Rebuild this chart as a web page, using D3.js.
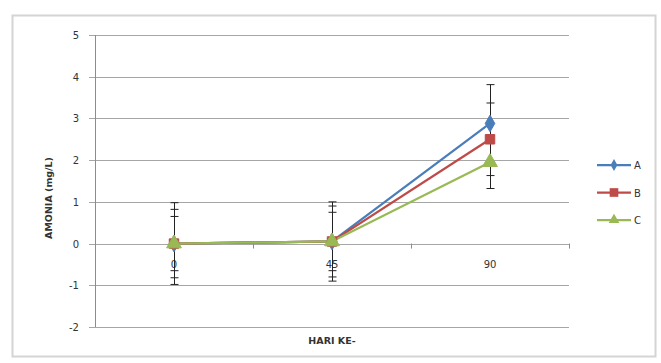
<!DOCTYPE html>
<html><head><meta charset="utf-8">
<script src="https://cdn.jsdelivr.net/npm/d3@7"></script>
<style>body{margin:0;background:#fff;}svg{display:block;}</style>
</head><body>
<svg id="c" width="661" height="363"></svg>
<script>
const categories = ["0", "45", "90"];
const seriesNames = ["A", "B", "C"];
const valuesA = [0, 0.05, 2.88];
const valuesB = [0, 0.05, 2.5];
const valuesC = [0, 0.05, 1.95];
const errorsA = [0.98, 0.95, 0.93];
const errorsB = [0.82, 0.85, 0.87];
const errorsC = [0.65, 0.7, 0.63];
const yTicks = [-2, -1, 0, 1, 2, 3, 4, 5];
const colors = ["#4A7EBB", "#BE4B48", "#98B954"];

const series = [
  {name: seriesNames[0], values: valuesA, errors: errorsA, color: colors[0], shape: d3.symbolDiamond},
  {name: seriesNames[1], values: valuesB, errors: errorsB, color: colors[1], shape: d3.symbolSquare},
  {name: seriesNames[2], values: valuesC, errors: errorsC, color: colors[2], shape: d3.symbolTriangle}
];

const svg = d3.select("#c");
const font = "'DejaVu Sans', sans-serif";
const L = 95, R = 569, T = 35, B = 327;

// outer border
svg.append("rect").attr("x", 12.5).attr("y", 15.5).attr("width", 643).attr("height", 341)
  .attr("fill", "#fff").attr("stroke", "#d4d4d4").attr("stroke-width", 2);

const x = d3.scaleBand().domain(categories).range([L, R]);
const y = d3.scaleLinear().domain([-2, 5]).range([B, T]);

// gridlines
svg.append("g").selectAll("line").data(yTicks).join("line")
  .attr("x1", L - 6).attr("x2", R)
  .attr("y1", d => Math.round(y(d)) + 0.5).attr("y2", d => Math.round(y(d)) + 0.5)
  .attr("stroke", "#a6a6a6").attr("stroke-width", 1);

// y axis line
svg.append("line").attr("x1", L + 0.5).attr("x2", L + 0.5).attr("y1", y(5)).attr("y2", y(-2))
  .attr("stroke", "#8c8c8c");

// y tick labels
svg.append("g").selectAll("text").data(yTicks).join("text")
  .attr("x", L - 16).attr("y", d => y(d) + 4).attr("text-anchor", "end")
  .attr("font-family", font).attr("font-size", 10).attr("fill", "#333")
  .text(d => d);

// category tick marks on 0 line
const bounds = [x("45"), x("90"), R];
svg.append("g").selectAll("line").data(bounds).join("line")
  .attr("x1", d => d + 0.5).attr("x2", d => d + 0.5)
  .attr("y1", y(0)).attr("y2", y(0) + 5).attr("stroke", "#8c8c8c");

// category labels
svg.append("g").selectAll("text").data(categories).join("text")
  .attr("x", d => x(d) + x.bandwidth() / 2).attr("y", y(0) + 24).attr("text-anchor", "middle")
  .attr("font-family", font).attr("font-size", 10).attr("fill", "#333")
  .text(d => d);

const cx = d => x(d) + x.bandwidth() / 2;

// lines
const line = d3.line().x((d, i) => cx(categories[i])).y(d => y(d));
series.forEach(s => {
  svg.append("path").datum(s.values).attr("d", line).attr("fill", "none")
    .attr("stroke", s.color).attr("stroke-width", 2.25);
});

// error bars
series.forEach(s => {
  const g = svg.append("g").attr("stroke", "#222").attr("stroke-width", 1);
  s.values.forEach((v, i) => {
    const px = Math.round(cx(categories[i])) + 0.5;
    const e = s.errors[i];
    g.append("line").attr("x1", px).attr("x2", px).attr("y1", y(v + e)).attr("y2", y(v - e));
    [v + e, v - e].forEach(t => {
      g.append("line").attr("x1", px - 4).attr("x2", px + 4).attr("y1", y(t)).attr("y2", y(t));
    });
  });
});

// markers
series.forEach((s, k) => {
  const sz = [80, 90, 95][k];
  svg.append("g").selectAll("path").data(s.values).join("path")
    .attr("transform", (d, i) => `translate(${cx(categories[i])},${y(d)})`)
    .attr("d", d3.symbol().type(s.shape).size(sz))
    .attr("fill", s.color).attr("stroke", s.color).attr("stroke-width", 1);
});

// legend
const lg = svg.append("g");
series.forEach((s, i) => {
  const ly = 165 + i * 27.5;
  lg.append("line").attr("x1", 597).attr("x2", 631).attr("y1", ly).attr("y2", ly)
    .attr("stroke", s.color).attr("stroke-width", 2.25);
  lg.append("path").attr("transform", `translate(614,${ly})`)
    .attr("d", d3.symbol().type(s.shape).size([40, 75, 50][i])).attr("fill", s.color);
  lg.append("text").attr("x", 634).attr("y", ly + 4).attr("font-family", font)
    .attr("font-size", 10).attr("fill", "#333").text(s.name);
});

// axis titles
svg.append("text").attr("transform", `translate(52,${(T + B) / 2 + 17}) rotate(-90)`)
  .attr("text-anchor", "middle").attr("font-family", font).attr("font-size", 9.5)
  .attr("font-weight", "bold").attr("fill", "#333").text("AMONIA (mg/L)");
svg.append("text").attr("x", (L + R) / 2).attr("y", 344).attr("text-anchor", "middle")
  .attr("font-family", font).attr("font-size", 9.5).attr("font-weight", "bold")
  .attr("fill", "#333").text("HARI KE-");
</script>
</body></html>
